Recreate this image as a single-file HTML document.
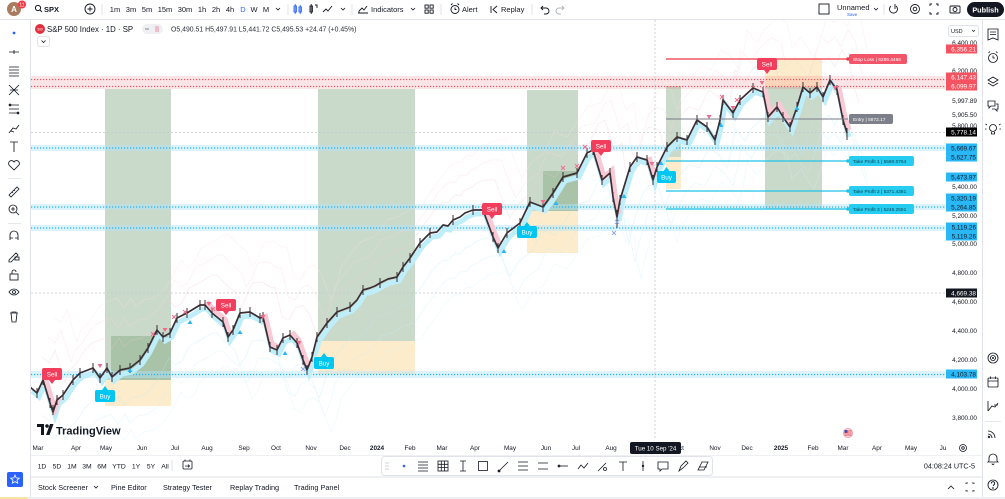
<!DOCTYPE html>
<html><head><meta charset="utf-8"><style>
html,body{margin:0;padding:0;background:#fff;}
svg{display:block;font-family:"Liberation Sans",sans-serif;}
</style></head><body>
<svg width="1005" height="499" viewBox="0 0 1005 499" xmlns="http://www.w3.org/2000/svg">
<defs>
<polyline id="pr" fill="none" points="30,387 37,393 43,380 50,403 53,412 57,400 63,395 73,380 80,373 93,368 100,378 107,368 112,377 120,370 130,368 140,360 148,348 157,330 163,337 170,333 177,318 187,313 200,305 205,305 212,313 223,322 228,337 233,330 240,313 250,312 260,318 263,317 270,347 277,350 283,338 290,335 297,343 303,360 307,370 312,357 317,337 327,323 337,312 350,307 357,300 363,290 370,288 375,286 380,283 388,279 397,277 403,267 410,258 420,243 430,233 437,232 443,225 448,226 453,220 460,217 465,213 473,210 483,210 493,237 498,248 507,233 520,223 530,202 543,207 553,193 563,177 577,173 587,153 593,150 602,180 610,173 613,197 617,217 620,200 630,167 637,157 647,160 653,180 657,167 667,147 677,137 687,140 697,120 707,127 715,140 720,120 723,100 733,113 740,100 753,88 763,92 768,117 777,107 783,117 790,127 797,107 803,87 810,93 817,87 823,97 830,80 837,90 843,120 847,133"/>
<clipPath id="cc"><rect x="31" y="20" width="914" height="420"/></clipPath>
</defs>
<rect width="1005" height="499" fill="#fff"/>

<!-- TOP BAR -->
<line x1="0" y1="19.5" x2="1005" y2="19.5" stroke="#e0e3eb"/>
<circle cx="14" cy="9" r="7" fill="#a97c5f"/>
<text x="14" y="12" font-size="8" fill="#fff" text-anchor="middle" font-weight="bold">A</text>
<circle cx="22" cy="4.5" r="4" fill="#f23645"/>
<text x="22" y="6.5" font-size="5" fill="#fff" text-anchor="middle">11</text>
<circle cx="38" cy="8" r="2.6" fill="none" stroke="#131722" stroke-width="1"/>
<line x1="40" y1="10" x2="42" y2="12" stroke="#131722" stroke-width="1"/>
<text x="44" y="12" font-size="7.5" font-weight="bold" fill="#131722">SPX</text>
<circle cx="90" cy="9" r="5" fill="none" stroke="#131722" stroke-width=".9"/>
<path d="M90 6.5v5M87.5 9h5" stroke="#131722" stroke-width=".9"/>
<g stroke="#e0e3eb"><line x1="102" y1="4" x2="102" y2="15"/><line x1="288" y1="4" x2="288" y2="15"/><line x1="352" y1="4" x2="352" y2="15"/><line x1="441" y1="4" x2="441" y2="15"/><line x1="532" y1="4" x2="532" y2="15"/><line x1="884" y1="4" x2="884" y2="15"/></g>
<g font-size="7.5" fill="#131722" text-anchor="middle">
<text x="115" y="12">1m</text><text x="131" y="12">3m</text><text x="147" y="12">5m</text><text x="165" y="12">15m</text><text x="185" y="12">30m</text><text x="202" y="12">1h</text><text x="216" y="12">2h</text><text x="230" y="12">4h</text><text x="243" y="12" fill="#2962ff">D</text><text x="254" y="12">W</text><text x="266" y="12">M</text>
</g>
<g fill="none" stroke="#131722" stroke-width=".8">
<path d="M276 8l2 2 2-2"/><path d="M341 8l2 2 2-2"/><path d="M411 8l2 2 2-2"/><path d="M874 8l2 2 2-2"/>
</g>
<g stroke="#2962ff" stroke-width=".9" fill="none"><rect x="294" y="6" width="2.4" height="6"/><line x1="295.2" y1="4" x2="295.2" y2="14"/><rect x="299" y="7" width="2.4" height="5"/><line x1="300.2" y1="5" x2="300.2" y2="14"/></g>
<g stroke="#131722" stroke-width=".9" fill="none"><rect x="310" y="6" width="2.4" height="6"/><line x1="311.2" y1="4" x2="311.2" y2="14"/><path d="M315 5h2v3"/>
<path d="M323 12l3-3 2 2 4-5"/>
<path d="M358 13h10M359 11l3-3 2 2 3-4M359 13v-2"/>
<rect x="425" y="5" width="3.2" height="3.2"/><rect x="430" y="5" width="3.2" height="3.2"/><rect x="425" y="10" width="3.2" height="3.2"/><rect x="430" y="10" width="3.2" height="3.2"/>
<circle cx="455" cy="9.5" r="4"/><path d="M455 7.5v2h1.5M451 5l1.5-1.5M459 5l-1.5-1.5"/>
<path d="M491 6v7M497 6l-4 3.5 4 3.5"/>
<path d="M541 8h5a3 3 0 0 1 0 6h-2M543 6l-2 2 2 2"/>
<rect x="819" y="4" width="10" height="10"/>
<path d="M891 6a4 4 0 1 0 5 0M895 4v5"/>
<circle cx="915" cy="9" r="4.5"/><circle cx="915" cy="9" r="1.8"/>
<path d="M930 6v-2h2M938 6v-2h-2M930 12v2h2M938 12v2h-2"/>
<rect x="950" y="6" width="10" height="7" rx="1"/><circle cx="955" cy="9.5" r="2"/>
</g>
<path d="M560 8h5a3 3 0 0 1 0 6h-2M562 6l-2 2 2 2" transform="translate(1124,0) scale(-1,1)" stroke="#b2b5be" stroke-width=".9" fill="none"/>
<text x="371" y="12" font-size="7.5" fill="#131722">Indicators</text>
<text x="462" y="12" font-size="7.5" fill="#131722">Alert</text>
<text x="501" y="12" font-size="7.5" fill="#131722">Replay</text>
<text x="837" y="10" font-size="7.5" fill="#131722">Unnamed</text>
<text x="847" y="16" font-size="4.5" fill="#2962ff">Save</text>
<rect x="967" y="2" width="37" height="15" rx="7.5" fill="#131722"/>
<text x="985.5" y="12.3" font-size="7.3" fill="#fff" text-anchor="middle" font-weight="bold">Publish</text>

<!-- PANEL BORDERS -->
<line x1="30.5" y1="20" x2="30.5" y2="497" stroke="#e0e3eb"/>
<line x1="982.5" y1="20" x2="982.5" y2="497" stroke="#e0e3eb"/>
<line x1="31" y1="455.5" x2="982" y2="455.5" stroke="#eef0f3"/>
<rect x="31" y="476" width="951" height="2" fill="#eef0f3"/>
<rect x="0" y="497" width="1005" height="2" fill="#eef0f3"/>
<rect x="0" y="497" width="28" height="2" fill="#fbe3a6"/>

<!-- CHART -->
<g clip-path="url(#cc)">
<rect x="105" y="89" width="66" height="291" fill="#cadaca"/>
<rect x="111" y="336" width="60" height="44" fill="#a8c3a7"/>
<rect x="105" y="380" width="66" height="26" fill="#fdeccb"/>
<rect x="318" y="89" width="97" height="252" fill="#cadaca"/>
<rect x="318" y="341" width="97" height="33" fill="#fdeccb"/>
<rect x="527" y="90" width="51" height="121" fill="#cadaca"/>
<rect x="543" y="171" width="35" height="40" fill="#a8c3a7"/>
<rect x="527" y="211" width="51" height="42" fill="#fdeccb"/>
<rect x="666" y="86" width="15" height="71" fill="#cadaca"/>
<rect x="666" y="157" width="15" height="32" fill="#fdeccb"/>
<rect x="765" y="59" width="57" height="28" fill="#fdeccb"/>
<rect x="765" y="87" width="57" height="122" fill="#cadaca"/>

<rect x="31" y="76" width="914" height="13" fill="#f23645" opacity=".13"/>
<g stroke="#f23645" stroke-width="1.2" stroke-dasharray="1.2 1.8" opacity=".8"><line x1="31" y1="79.5" x2="945" y2="79.5"/><line x1="31" y1="86.5" x2="945" y2="86.5"/></g>
<g fill="#b3e5fc" opacity=".45"><rect x="31" y="145" width="914" height="6"/><rect x="31" y="204" width="914" height="6"/><rect x="31" y="225" width="914" height="6"/><rect x="31" y="371" width="914" height="7"/></g>
<g stroke="#1eb4f0" stroke-width="1.2" stroke-dasharray="1.2 1.8"><line x1="31" y1="148" x2="945" y2="148"/><line x1="31" y1="207" x2="945" y2="207"/><line x1="31" y1="228" x2="945" y2="228"/><line x1="31" y1="374.5" x2="945" y2="374.5"/></g>
<g stroke="#c4c7ce" stroke-width=".8" stroke-dasharray="2 2"><line x1="31" y1="132.5" x2="945" y2="132.5"/><line x1="31" y1="293" x2="945" y2="293"/><line x1="655" y1="20" x2="655" y2="440"/></g>

<g opacity=".35" stroke-width=".8">
<use href="#pr" stroke="#f8c4cf" transform="translate(12,-30)"/>
<use href="#pr" stroke="#fad3db" transform="translate(18,-50)"/>
<use href="#pr" stroke="#fbdde3" transform="translate(24,-70)"/>
<use href="#pr" stroke="#b6e8f7" transform="translate(12,28)"/>
<use href="#pr" stroke="#c6eef9" transform="translate(18,46)"/>
<use href="#pr" stroke="#d3f2fb" transform="translate(24,62)"/>
</g>

<use href="#pr" stroke="#bdeefa" stroke-width="5" transform="translate(2,4)"/>
<g fill="none" stroke="#f9c9d5" stroke-width="5" transform="translate(2,-3)">
<polyline points="43,380 50,403 53,412 57,400"/>
<polyline points="205,305 212,313 223,322 228,337"/>
<polyline points="263,317 270,347 277,350"/>
<polyline points="290,335 297,343 303,360 307,370"/>
<polyline points="483,210 493,237 498,248"/>
<polyline points="593,150 602,180 610,173 613,197 617,217"/>
<polyline points="647,160 653,180"/>
<polyline points="763,92 768,117 777,107 783,117 790,127"/>
<polyline points="837,90 843,120 847,133"/>
</g>

<use href="#pr" stroke="#3a2f34" stroke-width="1.7" stroke-linejoin="round"/>
<path stroke="#3a2f34" stroke-width="1" d="M30 382v10M37 388v10M43 375v10M50 398v10M53 405v10M57 395v10M63 390v10M73 375v10M80 368v10M93 363v10M100 373v10M107 363v10M112 372v10M120 365v10M130 363v10M140 355v10M148 343v10M157 325v10M163 332v10M170 328v10M177 313v10M187 308v10M200 300v10M205 300v10M212 308v10M223 317v10M228 332v10M233 325v10M240 308v10M250 307v10M260 313v10M263 312v10M270 342v10M277 345v10M283 333v10M290 330v10M297 338v10M303 355v10M307 365v10M312 352v10M317 332v10M327 318v10M337 307v10M350 302v10M363 285v10M380 278v10M397 272v10M403 262v10M410 253v10M420 238v10M430 228v10M453 215v10M473 205v10M483 205v10M493 232v10M498 243v10M507 228v10M520 218v10M530 197v10M543 202v10M553 188v10M563 172v10M577 168v10M587 148v10M593 145v10M602 175v10M610 168v10M613 192v10M617 210v18M620 195v10M630 162v10M637 152v10M647 155v10M653 175v10M657 162v10M667 142v10M677 132v10M687 135v10M697 115v10M707 122v10M715 135v10M720 115v10M723 95v10M733 108v10M740 95v10M753 83v10M763 87v10M768 112v10M777 102v10M783 112v10M790 122v10M797 102v10M803 82v10M810 88v10M817 82v10M823 92v10M830 75v10M837 85v10M843 115v10M847 128v12"/>

<g fill="#f06b8a">
<polygon points="97.5,364 102.5,364 100,368"/><polygon points="162.5,328 167.5,328 165,332"/><polygon points="206.5,302 211.5,302 209,306"/><polygon points="260.5,315 265.5,315 263,319"/><polygon points="296.5,341 301.5,341 299,345"/><polygon points="540.5,200 545.5,200 543,204"/><polygon points="649.5,162 654.5,162 652,166"/><polygon points="706.5,115 711.5,115 709,119"/><polygon points="730.5,106 735.5,106 733,110"/><polygon points="759.5,81 764.5,81 762,85"/><polygon points="832.5,86 837.5,86 835,90"/>
</g>
<g fill="#29b6f6">
<polygon points="187.5,324 192.5,324 190,320"/><polygon points="237.5,334 242.5,334 240,330"/><polygon points="282.5,355 287.5,355 285,351"/><polygon points="127.5,372 132.5,372 130,368"/><polygon points="553.5,205 558.5,205 556,201"/><polygon points="501.5,253 506.5,253 504,249"/><polygon points="621.5,198 626.5,198 624,194"/><polygon points="658.5,165 663.5,165 661,161"/><polygon points="718.5,127 723.5,127 721,123"/><polygon points="794.5,110 799.5,110 797,106"/>
</g>
<g stroke="#f06b8a" stroke-width=".9">
<path d="M172 315l4 4M176 315l-4 4M183 310l4 4M187 310l-4 4M151 332l4 4M155 332l-4 4M211 307l4 4M215 307l-4 4M561 166l4 4M565 166l-4 4M575 164l4 4M579 164l-4 4M583 145l4 4M587 145l-4 4M720 95l4 4M724 95l-4 4M735 98l4 4M739 98l-4 4"/>
</g>
<g stroke="#8fa5e6" stroke-width=".9"><path d="M615 220l4 4M619 220l-4 4M612 231l4 4M616 231l-4 4M301 367l4 4M305 367l-4 4"/></g>

<line x1="666" y1="59" x2="848" y2="59" stroke="#f23645" stroke-width="1.3"/>
<line x1="666" y1="119" x2="848" y2="119" stroke="#787b86" stroke-width="1.1"/>
<g stroke="#1fc3e6" stroke-width="1.3"><line x1="666" y1="161" x2="848" y2="161"/><line x1="666" y1="191" x2="848" y2="191"/><line x1="666" y1="209" x2="848" y2="209"/></g>
<circle cx="848" cy="59" r="1.8" fill="#f23645"/>
<g fill="#1fc3e6"><circle cx="848" cy="161" r="1.8"/><circle cx="848" cy="191" r="1.8"/><circle cx="848" cy="209" r="1.8"/></g>
<rect x="849" y="54" width="58" height="10" rx="2" fill="#f25469"/>
<text x="853" y="60.8" font-size="4.8" fill="#fff">Stop Loss | 6289.4466</text>
<rect x="849" y="114" width="44" height="10" rx="2" fill="#7d808a"/>
<text x="853" y="120.8" font-size="4.8" fill="#fff">Entry | 5872.17</text>
<rect x="849" y="156" width="65" height="10" rx="2" fill="#27cdf0"/>
<text x="853" y="162.8" font-size="4.8" fill="#0d3b4a">Take Profit 1 | 5580.0764</text>
<rect x="849" y="186" width="65" height="10" rx="2" fill="#27cdf0"/>
<text x="853" y="192.8" font-size="4.8" fill="#0d3b4a">Take Profit 2 | 5371.4381</text>
<rect x="849" y="204" width="65" height="10" rx="2" fill="#27cdf0"/>
<text x="853" y="210.8" font-size="4.8" fill="#0d3b4a">Take Profit 3 | 5246.2551</text>

<g fill="#f23e5c">
<rect x="42" y="368" width="20" height="12" rx="2"/><polygon points="49,380 55,380 52,384"/>
<rect x="216" y="299" width="20" height="12" rx="2"/><polygon points="223,311 229,311 226,315"/>
<rect x="482" y="203" width="20" height="12" rx="2"/><polygon points="489,215 495,215 492,219"/>
<rect x="591" y="140" width="20" height="12" rx="2"/><polygon points="598,152 604,152 601,156"/>
<rect x="757" y="58" width="20" height="12" rx="2"/><polygon points="764,70 770,70 767,74"/>
</g>
<g font-size="6.3" fill="#fff" text-anchor="middle">
<text x="52" y="376.3">Sell</text><text x="226" y="307.3">Sell</text><text x="492" y="211.3">Sell</text><text x="601" y="148.3">Sell</text><text x="767" y="66.3">Sell</text>
</g>
<g fill="#00c6f2">
<rect x="95" y="390" width="20" height="12" rx="2"/><polygon points="102,390 108,390 105,386"/>
<rect x="314" y="357" width="20" height="12" rx="2"/><polygon points="321,357 327,357 324,353"/>
<rect x="517" y="226" width="20" height="12" rx="2"/><polygon points="524,226 530,226 527,222"/>
<rect x="657" y="171" width="19" height="12" rx="2"/><polygon points="663.5,171 669.5,171 666.5,167"/>
</g>
<g font-size="6.3" fill="#fff" text-anchor="middle">
<text x="105" y="398.3">Buy</text><text x="324" y="365.3">Buy</text><text x="527" y="234.3">Buy</text><text x="666.5" y="179.3">Buy</text>
</g>
</g>

<path d="M37 424h7v11h-3v-8h-4z" fill="#131722"/>
<circle cx="47" cy="426" r="1.8" fill="#131722"/>
<path d="M50 424h3.5l-4 11h-3.5z" fill="#131722"/>
<text x="56" y="434.5" font-size="11" font-weight="bold" fill="#131722">TradingView</text>
<circle cx="848" cy="433" r="5" fill="#f4a0ad"/>
<circle cx="848" cy="433" r="3.8" fill="#fff"/>
<path d="M844.5 431h7M844.5 433h7M844.5 435h7" stroke="#e0303f" stroke-width=".9"/>
<rect x="844.5" y="430" width="3" height="2.5" fill="#3f51b5"/>

<circle cx="40" cy="29" r="5" fill="#e0303f"/>
<text x="40" y="30.3" font-size="3.2" fill="#fff" text-anchor="middle">500</text>
<text x="47" y="32" font-size="7.8" fill="#131722">S&amp;P 500 Index · 1D · SP</text>
<rect x="142" y="24" width="21" height="10" rx="5" fill="#eef0f3"/>
<path d="M145 29h4" stroke="#787b86" stroke-width=".9"/>
<path d="M155 27h4M155 29h4M155 31h4" stroke="#f06b8a" stroke-width=".8"/>
<text x="171" y="31.5" font-size="6.9" fill="#2a2e39">O5,490.51 H5,497.91 L5,441.72 C5,495.53 +24.47 (+0.45%)</text>
<rect x="37.5" y="36.5" width="12" height="10" rx="2" fill="#fff" stroke="#e0e3eb"/>
<path d="M41.5 40.5l2 2 2-2" stroke="#131722" stroke-width=".8" fill="none"/>

<rect x="948.5" y="25.5" width="30" height="11" rx="2" fill="#fff" stroke="#e0e3eb"/>
<text x="951" y="33" font-size="5.5" fill="#131722">USD</text>
<path d="M972 30l1.5 1.5 1.5-1.5" stroke="#131722" stroke-width=".7" fill="none"/>
<g font-size="6.4" fill="#131722" text-anchor="end">
<text x="977" y="45">6,400.00</text><text x="977" y="73">6,200.00</text><text x="977" y="103">5,997.89</text><text x="977" y="117">5,905.50</text><text x="977" y="128">5,800.00</text><text x="977" y="189">5,400.00</text><text x="977" y="218">5,200.00</text><text x="977" y="246">5,000.00</text><text x="977" y="275">4,800.00</text><text x="977" y="304">4,600.00</text><text x="977" y="333">4,400.00</text><text x="977" y="362">4,200.00</text><text x="977" y="391">4,000.00</text><text x="977" y="420">3,800.00</text>
</g>
<g fill="#f7525f"><rect x="946" y="44.5" width="31" height="9"/><rect x="946" y="72.5" width="31" height="9"/><rect x="946" y="81.5" width="31" height="9"/></g>
<rect x="946" y="127.5" width="31" height="9" fill="#000"/>
<g fill="#2ab7f5"><rect x="946" y="143.5" width="31" height="9"/><rect x="946" y="152.5" width="31" height="9"/><rect x="946" y="172.5" width="31" height="9"/><rect x="946" y="193.5" width="31" height="9"/><rect x="946" y="202.5" width="31" height="9"/><rect x="946" y="222.5" width="31" height="9"/><rect x="946" y="231.5" width="31" height="9"/><rect x="946" y="369.5" width="31" height="9"/></g>
<rect x="946" y="288.5" width="31" height="9" fill="#131722"/>
<g font-size="6.4" text-anchor="end">
<text x="976" y="51.3" fill="#fff">6,356.21</text><text x="976" y="79.3" fill="#fff">6,147.43</text><text x="976" y="88.3" fill="#fff">6,099.97</text><text x="976" y="134.3" fill="#fff">5,778.14</text>
<text x="976" y="150.3" fill="#131722">5,669.67</text><text x="976" y="159.3" fill="#131722">5,627.75</text><text x="976" y="179.3" fill="#131722">5,473.97</text><text x="976" y="200.3" fill="#131722">5,320.19</text><text x="976" y="209.3" fill="#131722">5,264.85</text><text x="976" y="229.3" fill="#131722">5,119.26</text><text x="976" y="238.3" fill="#131722">5,119.26</text><text x="976" y="376.3" fill="#131722">4,103.78</text>
<text x="976" y="295.3" fill="#fff">4,669.38</text>
</g>

<g font-size="6.4" fill="#131722" text-anchor="middle">
<text x="38" y="450">Mar</text><text x="76" y="450">Apr</text><text x="106" y="450">May</text><text x="142" y="450">Jun</text><text x="175" y="450">Jul</text><text x="207" y="450">Aug</text><text x="244" y="450">Sep</text><text x="276" y="450">Oct</text><text x="311" y="450">Nov</text><text x="345" y="450">Dec</text><text x="377" y="450" font-weight="bold">2024</text><text x="410" y="450">Feb</text><text x="442" y="450">Mar</text><text x="475" y="450">Apr</text><text x="510" y="450">May</text><text x="546" y="450">Jun</text><text x="576" y="450">Jul</text><text x="611" y="450">Aug</text><text x="679" y="450">Oct</text><text x="715" y="450">Nov</text><text x="747" y="450">Dec</text><text x="781" y="450" font-weight="bold">2025</text><text x="813" y="450">Feb</text><text x="843" y="450">Mar</text><text x="877" y="450">Apr</text><text x="911" y="450">May</text><text x="943" y="450">Ju</text>
</g>
<rect x="630" y="442" width="51" height="12" rx="2" fill="#131722"/>
<text x="655.5" y="450.3" font-size="6.2" fill="#fff" text-anchor="middle">Tue 10 Sep '24</text>
<circle cx="963" cy="448" r="3.5" fill="none" stroke="#131722" stroke-width=".8"/><circle cx="963" cy="448" r="1.3" fill="none" stroke="#131722" stroke-width=".8"/>

<g font-size="6.8" fill="#131722" text-anchor="middle">
<text x="42" y="468.3">1D</text><text x="57" y="468.3">5D</text><text x="72" y="468.3">1M</text><text x="87" y="468.3">3M</text><text x="102" y="468.3">6M</text><text x="119" y="468.3">YTD</text><text x="136" y="468.3">1Y</text><text x="151" y="468.3">5Y</text><text x="165" y="468.3">All</text>
</g>
<line x1="172" y1="460" x2="172" y2="471" stroke="#e0e3eb"/>
<g stroke="#131722" stroke-width=".8" fill="none"><rect x="183" y="461" width="9" height="8" rx="1"/><path d="M185 459.5v2M190 459.5v2M185 466h4M188 464.5l1.5 1.5-1.5 1.5"/></g>
<text x="975" y="468.3" font-size="7.2" fill="#131722" text-anchor="end">04:08:24 UTC-5</text>

<rect x="381.5" y="456.5" width="331" height="19" rx="3" fill="#fff" stroke="#e0e3eb"/>
<g fill="#b2b5be"><circle cx="386" cy="463" r=".6"/><circle cx="388" cy="463" r=".6"/><circle cx="386" cy="466" r=".6"/><circle cx="388" cy="466" r=".6"/><circle cx="386" cy="469" r=".6"/><circle cx="388" cy="469" r=".6"/></g>
<circle cx="404" cy="466" r="1.3" fill="#2962ff"/>
<g stroke="#131722" stroke-width=".8" fill="none">
<path d="M418 462h10M418 465h10M418 468h10M418 471h10"/>
<rect x="438" y="461" width="10" height="10"/><path d="M441.3 461v10M444.6 461v10M438 464.3h10M438 467.6h10"/>
<path d="M460 461h6M463 461v10M460 471h6"/>
<rect x="478.5" y="461.5" width="9" height="9"/>
<path d="M499 471l9-9"/><circle cx="499" cy="471" r="1" fill="#131722"/>
<path d="M518 462h10M518 466h10M518 470h10"/>
<path d="M538 463h10M538 469h10"/>
<path d="M558 466h10"/><circle cx="559" cy="466" r="1"/>
<path d="M578 469l3-4 3 3 4-5"/>
<path d="M598 471l8-8"/><circle cx="605" cy="469" r="1.5"/>
<path d="M619 462h8M623 462v9"/>
<path d="M643 461v10"/><circle cx="643" cy="466" r=".8"/>
<path d="M658 462h10v7h-6l-2 2v-2h-2z"/>
<path d="M679 471l2-5 5-5 2 2-5 5z"/>
<path d="M698 470l4-8h6l-4 8z M699 467h8"/>
</g>

<rect x="7" y="472" width="16" height="15" rx="2" fill="#2962ff"/>
<path d="M15 475l1.2 2.9 3.1.3-2.3 2 .7 3-2.7-1.6-2.7 1.6.7-3-2.3-2 3.1-.3z" fill="none" stroke="#fff" stroke-width=".8"/>
<g font-size="7.3" fill="#131722">
<text x="38" y="490">Stock Screener</text><text x="111" y="490">Pine Editor</text><text x="163" y="490">Strategy Tester</text><text x="230" y="490">Replay Trading</text><text x="294" y="490">Trading Panel</text>
</g>
<g stroke="#131722" stroke-width=".8" fill="none">
<path d="M94 486l2 2 2-2"/>
<path d="M948 489l3-3 3 3"/>
<path d="M966 484v-1h2M974 484v-1h-2M966 490v1h2M974 490v1h-2"/>
</g>

<circle cx="14" cy="33" r="1.4" fill="#2962ff"/>
<g stroke="#131722" stroke-width=".85" fill="none">
<path d="M9 52h10M14 50v4"/>
<path d="M9 67h10M9 70h10M9 73h10M9 76h10"/>
<path d="M9 85l10 10M19 85l-10 10M10 90h8"/>
<path d="M9 105h10M9 109h10M9 113h10"/><circle cx="10" cy="105" r=".9"/><circle cx="18" cy="113" r=".9"/>
<path d="M9 133l4-5 3 1 3-4M11 131l3 1"/>
<path d="M10 142h8M14 142v10"/>
<path d="M14 170l-5-5a2.6 2.6 0 0 1 5-3 2.6 2.6 0 0 1 5 3z"/>
<path d="M8 178.5h13" stroke="#e0e3eb"/>
<path d="M9 195l8-8 2 2-8 8z M12 192l1 1M14 190l1 1"/>
<circle cx="13" cy="209" r="4"/><path d="M16 212l3 3M13 207v4M11 209h4"/>
<path d="M8 223.5h13" stroke="#e0e3eb"/>
<path d="M10 240v-5a4 4 0 0 1 8 0v5M10 238h3M15 238h3"/>
<path d="M9 260l7-7 2 2-7 7h-2z"/><rect x="15" y="257" width="4" height="3"/>
<rect x="10" y="274" width="8" height="6"/><path d="M12 274v-2a2 2 0 0 1 4 0"/>
<path d="M9 292c3-4 7-4 10 0c-3 4-7 4-10 0z"/><circle cx="14" cy="292" r="1.5"/>
<path d="M10 313h8M12 313v-1h4v1M11 313l1 9h4l1-9"/>
</g>

<g stroke="#131722" stroke-width=".85" fill="none">
<path d="M988 29h10v11l-5-2-5 2z M990 32h6M990 34.5h6"/>
<circle cx="993" cy="58" r="4.5"/><path d="M993 55.5v2.5h2M988.5 53l1.5-1.5M997.5 53l-1.5-1.5"/>
<path d="M993 77l5 3-5 3-5-3z M988 83l5 3 5-3"/>
<path d="M988 101h7v5h-4l-2 2v-2h-1z M996 104h2v5h-1v2l-2-2h-3"/>
<circle cx="993" cy="128" r="3.5"/><path d="M991.5 132v2h3v-2M987 125l-1.5-1M999 125l1.5-1M986.5 129h-1.5M999.5 129h1.5"/>
<circle cx="993" cy="358" r="5"/><circle cx="993" cy="358" r="2.5"/><circle cx="993" cy="358" r=".6"/>
<rect x="988" y="378" width="10" height="9" rx="1"/><path d="M988 381h10M990.5 376.5v2.5M995.5 376.5v2.5"/>
<path d="M988 401v10M988 411l4-5 3 1 3-4M994 405h4"/>
<path d="M985 421.5h16" stroke="#e0e3eb"/>
<path d="M988 431a7 7 0 0 1 7 7M988 434a4 4 0 0 1 4 4"/><circle cx="989" cy="437" r=".8"/>
<path d="M989 461v-3a4 4 0 0 1 8 0v3l1 1h-10z M992 463.5a1 1 0 0 0 2 0"/>
<circle cx="993" cy="485" r="5"/><path d="M991.3 483.5a1.7 1.7 0 1 1 2 1.6v1"/><circle cx="993" cy="488" r=".4"/>
</g>
</svg>
</body></html>
